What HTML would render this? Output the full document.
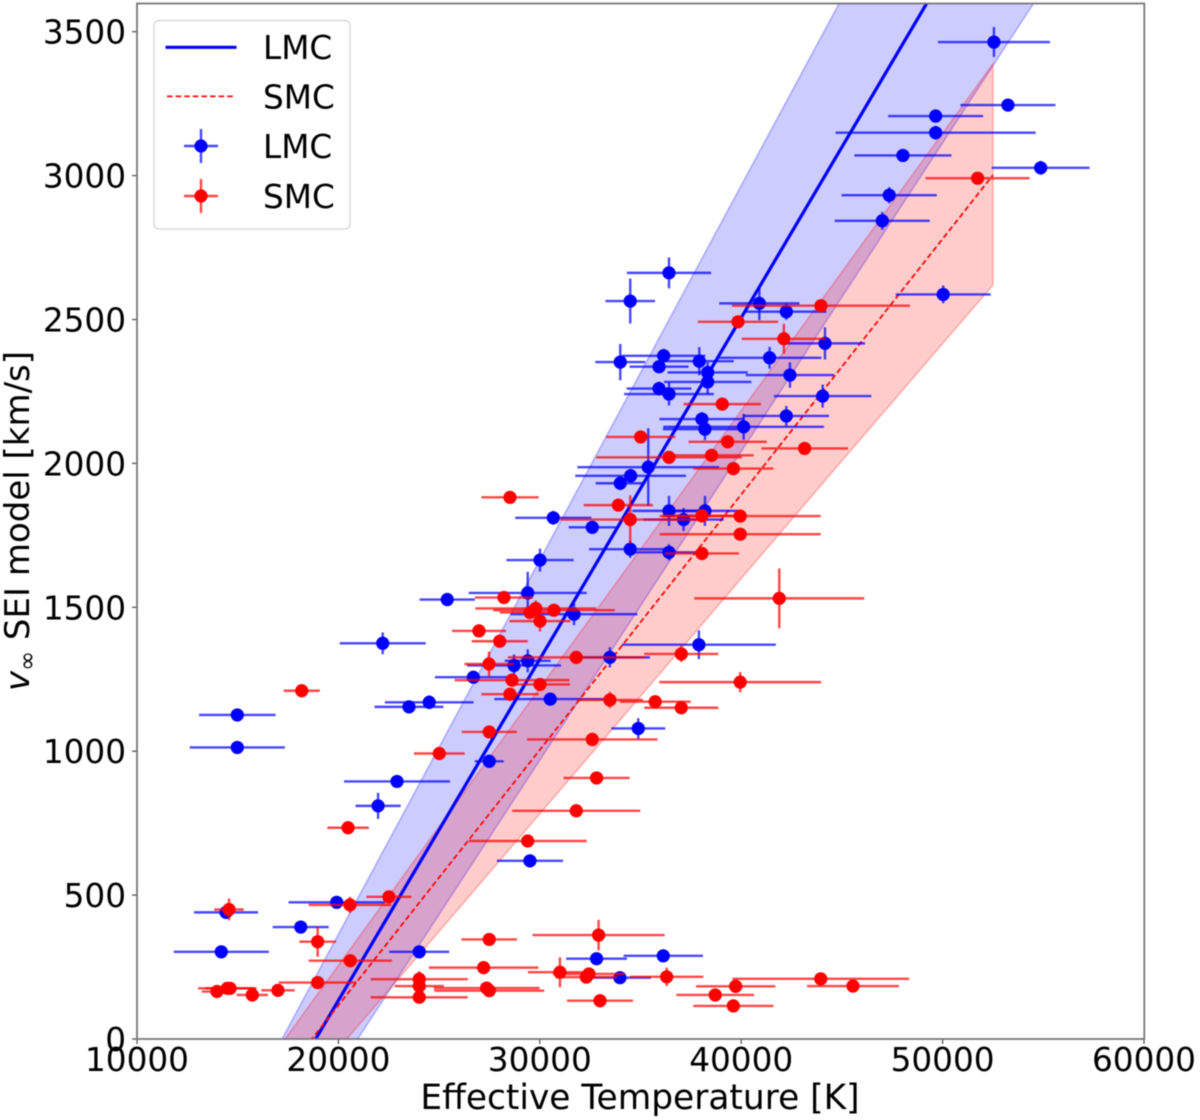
<!DOCTYPE html>
<html lang="en">
<head>
<meta charset="utf-8">
<title>Wind terminal velocity vs effective temperature</title>
<style>
html,body{margin:0;padding:0;background:#fff;width:1200px;height:1120px;overflow:hidden}
svg{display:block;font-family:"DejaVu Sans","Liberation Sans",sans-serif;filter:blur(0.45px)}
</style>
</head>
<body>
<svg id="chart" xmlns="http://www.w3.org/2000/svg" width="1200" height="1120" viewBox="0 0 1200 1120">
  <defs><clipPath id="plot-clip"><rect x="137" y="3.5" width="1007.3" height="1035.5"/></clipPath></defs>
  <rect x="137" y="3.5" width="1007.3" height="1035.5" fill="#fff"/>
  <g id="bands" clip-path="url(#plot-clip)"></g>
  <g id="fits" clip-path="url(#plot-clip)"></g>
  <g id="points" clip-path="url(#plot-clip)"></g>
  <g id="axes"></g>
  <rect x="137" y="3.5" width="1007.3" height="1035.5" fill="none" stroke="#777" stroke-width="1.8"/>
  <text x="640" y="1109" font-size="34.4" text-anchor="middle" fill="#000">Effective Temperature [K]</text>
  <text transform="translate(29 521) rotate(-90)" font-size="34" text-anchor="middle" fill="#000"><tspan font-style="italic">v</tspan><tspan font-size="24" dy="6">∞</tspan><tspan dy="-6"> SEI model [km/s]</tspan></text>
  <g>
    <rect x="154" y="20.5" width="196" height="208.5" rx="5" fill="#fff" fill-opacity="0.85" stroke="#dcdcdc" stroke-width="1.5"/>
    <line x1="165.5" x2="236.5" y1="47.3" y2="47.3" stroke="#0000ff" stroke-width="3.2"/>
    <text x="263" y="59" font-size="32.7" fill="#000">LMC</text>
    <line x1="167" x2="235" y1="96.3" y2="96.3" stroke="#ff0000" stroke-width="1.7" stroke-dasharray="5.6 3"/>
    <text x="263" y="108.5" font-size="32.7" fill="#000">SMC</text>
    <g>
      <line x1="184" x2="218" y1="146" y2="146" stroke="#0000ff" stroke-opacity="0.72" stroke-width="2.4"/>
      <line x1="201" x2="201" y1="129" y2="163" stroke="#0000ff" stroke-opacity="0.72" stroke-width="2.4"/>
      <circle cx="201" cy="146" r="6.6" fill="#0000ff"/>
    </g>
    <text x="263" y="158" font-size="32.7" fill="#000">LMC</text>
    <g>
      <line x1="184" x2="218" y1="196" y2="196" stroke="#ff0000" stroke-opacity="0.72" stroke-width="2.4"/>
      <line x1="201" x2="201" y1="179" y2="213" stroke="#ff0000" stroke-opacity="0.72" stroke-width="2.4"/>
      <circle cx="201" cy="196" r="6.6" fill="#ff0000"/>
    </g>
    <text x="263" y="208" font-size="32.7" fill="#000">SMC</text>
  </g>
</svg>
<script>
const xTickValues = [10000, 20000, 30000, 40000, 50000, 60000];
const yTickValues = [0, 500, 1000, 1500, 2000, 2500, 3000, 3500];

const lmcModelTeff = [17000, 25000, 35000, 45000, 55000];
const lmcFit = [-222, 727, 1913, 3099, 4285];
const lmcUpper = [-26, 1014, 2315, 3616, 4916];
const lmcLower = [-424, 433, 1505, 2578, 3650];

const smcModelTeff = [17000, 25000, 35000, 45000, 52500];
const smcFit = [-149, 561, 1448, 2336, 3002];
const smcUpper = [-34, 738, 1701, 2665, 3388];
const smcLower = [-279, 374, 1191, 2009, 2620];

const lmcTeff = [52550,53245,49655,49655,48030,54870,47350,47005,50030,36415,34490,40900,42240,44160,33995,36150,35920,37920,38335,41410,38335,42420,35920,36415,44045,42240,38050,38200,40120,35385,34510,33995,30670,32605,36415,38200,37140,34490,36415,30010,29400,25405,31700,22200,33480,29400,28720,26700,37900,30520,34890,24510,23505,27490,22910,29510,14980,14980,21970,19915,14420,18130,14185,24015,32820,36130,33980];
const lmcTeffErr = [2780,2360,2360,4965,2410,2430,2360,2360,2360,2090,1230,1990,1990,1990,1240,2070,1465,1710,1990,2570,2170,2190,1610,2230,2420,2125,2110,2090,3990,3520,2750,1220,1890,1170,1820,1640,1990,2040,1900,1670,2930,1375,3150,2135,1990,1140,2330,1910,3820,2780,1340,2200,1710,720,2630,1640,1900,2360,1120,2390,1590,1390,2360,1490,1510,1970,1540];
const lmcVinf = [3464,3245,3207,3149,3070,3027,2932,2843,2587,2662,2564,2556,2527,2417,2352,2374,2336,2355,2316,2367,2283,2307,2260,2241,2234,2165,2154,2119,2127,1987,1957,1931,1811,1778,1835,1835,1805,1702,1691,1664,1550,1527,1476,1375,1326,1314,1298,1257,1370,1181,1079,1170,1154,965,895,619,1126,1013,810,475,440,389,303,303,279,289,213];
const lmcVinfErr = [52,10,10,24,10,24,28,31,31,54,78,58,28,56,63,24,20,49,35,38,42,44,24,40,40,35,24,38,45,135,24,24,24,10,52,52,40,30,28,40,73,10,38,38,35,40,38,10,50,10,36,24,10,10,10,10,10,10,45,10,10,10,10,10,10,20,10];

const smcTeff = [51740,43960,39840,42120,39060,35010,39330,43150,36415,38530,39610,33900,34490,38050,39950,39950,38050,28520,28220,29800,29510,30700,30010,26980,28010,31810,27480,28620,30010,28520,33480,35730,37025,37025,39950,41890,32605,32820,31810,29400,27490,25010,18180,20480,22510,20575,14570,18970,27490,20590,27210,18970,24015,24015,24015,27360,27490,14485,14620,13970,15725,17000,32920,31000,32440,32310,36300,43950,45550,39725,38710,39610,32990];
const smcTeffErr = [2580,4420,1990,2090,1920,1720,1945,2150,3620,2090,1990,1720,3480,1990,4000,4000,1840,1420,1440,3000,1500,3020,1510,1340,1390,3400,1220,2850,1490,1420,1640,1760,1840,1840,4020,4220,3240,1640,3180,2930,1365,1260,895,1030,1120,2050,730,910,1380,2070,2720,1930,2410,1220,2410,2630,2730,1450,1240,750,780,830,3280,1590,1790,1530,1820,4390,2280,1970,1930,1990,1640];
const smcVinf = [2991,2548,2492,2433,2206,2092,2075,2052,2021,2028,1982,1855,1805,1818,1817,1754,1687,1882,1534,1496,1482,1490,1452,1418,1382,1326,1303,1247,1232,1198,1178,1172,1151,1338,1240,1531,1041,907,793,688,1067,992,1210,734,494,466,450,338,346,272,248,196,208,184,145,177,168,176,176,165,153,169,361,232,226,215,216,209,184,183,153,115,133];
const smcVinfErr = [10,10,10,52,10,10,10,10,10,10,10,10,84,10,10,10,10,10,10,28,10,10,36,10,10,10,43,10,10,10,28,10,10,28,35,104,10,10,10,10,10,10,10,10,10,28,38,52,10,10,10,10,28,10,10,10,10,10,10,10,10,10,53,52,10,10,32,10,10,10,10,10,10];

const xScale = function (t) { return 137 + (t - 10000) * 0.02014; };
const yScale = function (v) { return 1039 - v * 0.2878; };
const SVG_NS = 'http://www.w3.org/2000/svg';

function makeEl(tag, attrs, parent) {
  const el = document.createElementNS(SVG_NS, tag);
  Object.keys(attrs).forEach(function (k) { el.setAttribute(k, attrs[k]); });
  parent.appendChild(el);
  return el;
}

function pointString(teff, values) {
  return teff.map(function (t, i) { return xScale(t).toFixed(2) + ',' + yScale(values[i]).toFixed(2); }).join(' ');
}

function bandPoints(teff, upper, lower) {
  const up = teff.map(function (t, i) { return xScale(t).toFixed(2) + ',' + yScale(upper[i]).toFixed(2); });
  const low = teff.map(function (t, i) { return xScale(t).toFixed(2) + ',' + yScale(lower[i]).toFixed(2); }).reverse();
  return up.concat(low).join(' ');
}

const bandsGroup = document.getElementById('bands');
const fitsGroup = document.getElementById('fits');
const pointsGroup = document.getElementById('points');
const axesGroup = document.getElementById('axes');

const lmcBand = makeEl('polygon', { points: bandPoints(lmcModelTeff, lmcUpper, lmcLower), fill: '#0000ff', 'fill-opacity': 0.2, stroke: '#0000ff', 'stroke-opacity': 0.25, 'stroke-width': 1.6 }, bandsGroup);



const smcBand = makeEl('polygon', { points: bandPoints(smcModelTeff, smcUpper, smcLower), fill: '#ff0000', 'fill-opacity': 0.2, stroke: '#ff0000', 'stroke-opacity': 0.25, 'stroke-width': 1.6 }, bandsGroup);



const lmcLine = makeEl('polyline', { points: pointString(lmcModelTeff, lmcFit), fill: 'none', stroke: '#0000ff', 'stroke-width': 3.2 }, fitsGroup);



const smcLine = makeEl('polyline', { points: pointString(smcModelTeff, smcFit), fill: 'none', stroke: '#ff0000', 'stroke-width': 1.7, 'stroke-dasharray': '5.6 3' }, fitsGroup);



function drawSeries(teff, teffErr, vinf, vinfErr, color, seriesName) {
  teff.forEach(function (t, i) {
    const g = makeEl('g', {}, pointsGroup);
    
    
    const cx = xScale(t);
    const cy = yScale(vinf[i]);
    makeEl('line', { x1: xScale(t - teffErr[i]), x2: xScale(t + teffErr[i]), y1: cy, y2: cy, stroke: color, 'stroke-opacity': 0.72, 'stroke-width': 2.4 }, g);
    makeEl('line', { x1: cx, x2: cx, y1: yScale(vinf[i] - vinfErr[i]), y2: yScale(vinf[i] + vinfErr[i]), stroke: color, 'stroke-opacity': 0.72, 'stroke-width': 2.4 }, g);
    makeEl('circle', { cx: cx, cy: cy, r: 6.6, fill: color }, g);
  });
}
drawSeries(lmcTeff, lmcTeffErr, lmcVinf, lmcVinfErr, '#0000ff', 'lmc');
drawSeries(smcTeff, smcTeffErr, smcVinf, smcVinfErr, '#ff0000', 'smc');

xTickValues.forEach(function (t) {
  const tick = makeEl('line', { x1: xScale(t), x2: xScale(t), y1: 1039, y2: 1044, stroke: '#555', 'stroke-width': 1.3 }, axesGroup);
  
  
  const label = makeEl('text', { x: xScale(t), y: 1071, 'font-size': 32.7, 'text-anchor': 'middle', fill: '#000' }, axesGroup);
  
  
  label.textContent = String(t);
});

yTickValues.forEach(function (v) {
  const tick = makeEl('line', { x1: 132, x2: 137, y1: yScale(v), y2: yScale(v), stroke: '#555', 'stroke-width': 1.3 }, axesGroup);
  
  
  const label = makeEl('text', { x: 126, y: yScale(v) + 12, 'font-size': 32.7, 'text-anchor': 'end', fill: '#000' }, axesGroup);
  
  
  label.textContent = String(v);
});
</script>
</body>
</html>
